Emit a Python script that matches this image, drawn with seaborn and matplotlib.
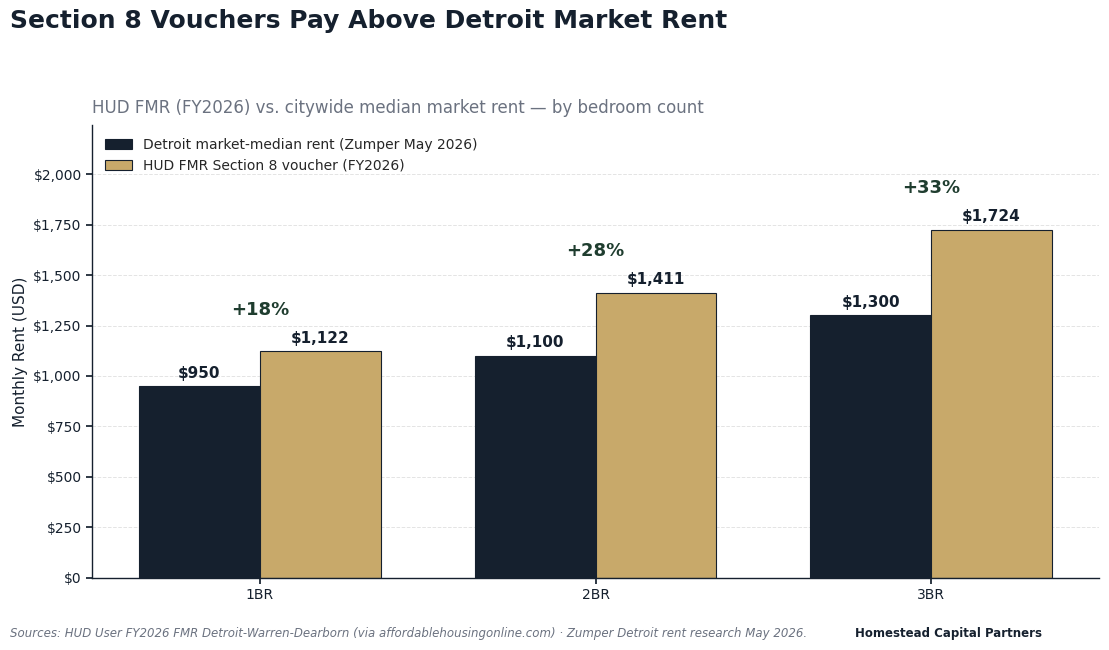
import matplotlib
matplotlib.use("Agg")
import matplotlib.pyplot as plt
import numpy as np
import pandas as pd
import seaborn as sns

NAVY = "#15202e"
GOLD = "#c8a96a"
GREEN = "#1f3d2f"
GRAY = "#6b7280"

bedrooms = ["1BR", "2BR", "3BR"]
market_rent = [950, 1100, 1300]
fmr_rent = [1122, 1411, 1724]
pct_premium = ["+18%", "+28%", "+33%"]

series_market = "Detroit market-median rent (Zumper May 2026)"
series_fmr = "HUD FMR Section 8 voucher (FY2026)"

df = pd.DataFrame({
    "bedrooms": bedrooms * 2,
    "rent": market_rent + fmr_rent,
    "series": [series_market] * 3 + [series_fmr] * 3,
})

sns.set_theme(style="white")
plt.rcParams["font.family"] = ["DejaVu Sans"]

fig, ax = plt.subplots(figsize=(11.09, 6.5), dpi=100)
fig.subplots_adjust(left=0.083, right=0.991, top=0.807, bottom=0.111)

sns.barplot(
    data=df, x="bedrooms", y="rent", hue="series",
    palette=[NAVY, GOLD], width=0.72, edgecolor=NAVY, linewidth=0.8,
    saturation=1, ax=ax,
)

ymax = max(fmr_rent)
ax.set_ylim(0, ymax * 1.3)
ax.set_xlim(-0.5, 2.5)
ax.yaxis.set_major_formatter(matplotlib.ticker.FuncFormatter(lambda v, _: f"${v:,.0f}"))
ax.set_yticks(np.arange(0, 2001, 250))

for container in ax.containers:
    ax.bar_label(container, labels=[f"${v:,.0f}" for v in container.datavalues],
                 padding=4, fontsize=11, fontweight="bold", color=NAVY)

for i, pct in enumerate(pct_premium):
    ax.text(i, fmr_rent[i] + ymax * 0.12, pct, ha="center", va="center",
            fontsize=13, fontweight="bold", color=GREEN)

ax.grid(axis="y", linestyle="--", color="#dddddd", linewidth=0.7, alpha=0.8)
ax.set_axisbelow(True)
sns.despine(ax=ax)
for s in ("left", "bottom"):
    ax.spines[s].set_color(NAVY)
    ax.spines[s].set_linewidth(1.0)
ax.tick_params(axis="both", colors=NAVY, labelsize=10, length=4, left=True, bottom=True)
ax.set_xlabel("")
ax.set_ylabel("Monthly Rent (USD)", fontsize=11, color=NAVY)

ax.legend(loc="upper left", frameon=False, fontsize=10)

ax.set_title("HUD FMR (FY2026) vs. citywide median market rent — by bedroom count",
             loc="left", fontsize=12, color=GRAY, pad=9)
fig.text(0.009, 0.967, "Section 8 Vouchers Pay Above Detroit Market Rent",
         fontsize=18, fontweight="bold", color=NAVY, ha="left", va="center")

fig.text(0.009, 0.025,
         "Sources: HUD User FY2026 FMR Detroit-Warren-Dearborn (via affordablehousingonline.com) · "
         "Zumper Detroit rent research May 2026.",
         fontsize=8.5, style="italic", color=GRAY, ha="left", va="center")
fig.text(0.771, 0.025, "Homestead Capital Partners", fontsize=8.5, fontweight="bold",
         color=NAVY, ha="left", va="center")

fig.savefig("out.png", dpi=100)
